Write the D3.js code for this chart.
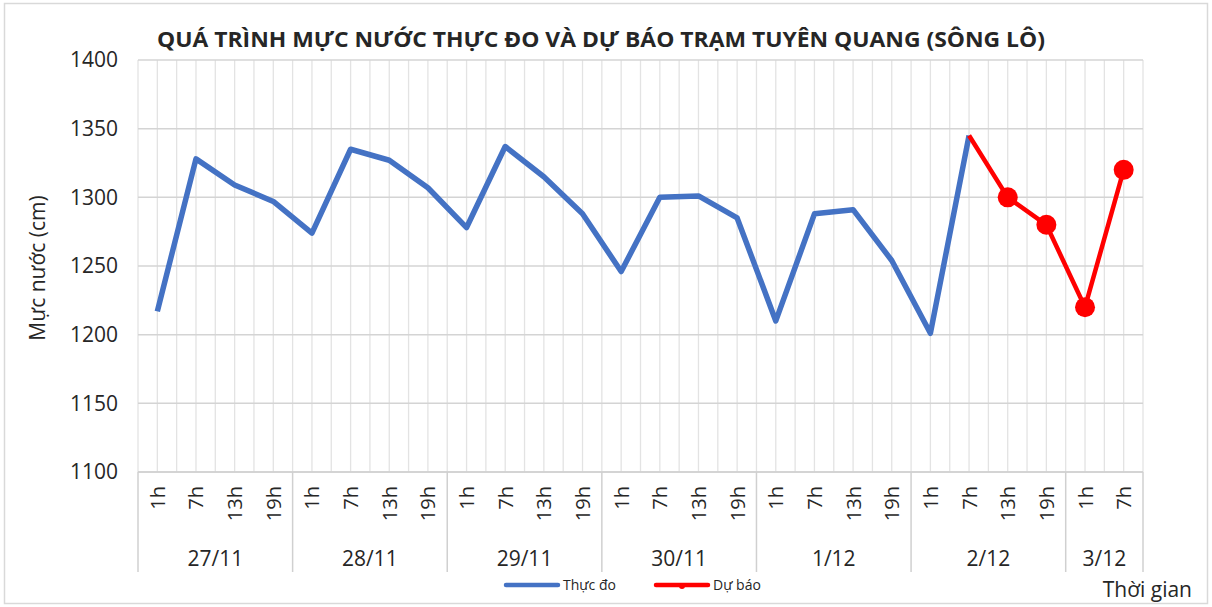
<!DOCTYPE html>
<html>
<head>
<meta charset="utf-8">
<script src="https://cdn.jsdelivr.net/npm/d3@7"></script>
<style>
  body { margin: 0; background: #fff; }
  svg text { font-family: "Open Sans", "Noto Sans", sans-serif; fill: #262626; }
</style>
</head>
<body>
<svg width="1212" height="607"></svg>
<script>
// categories
var hourLabels = ["1h","7h","13h","19h","1h","7h","13h","19h","1h","7h","13h","19h",
  "1h","7h","13h","19h","1h","7h","13h","19h","1h","7h","13h","19h","1h","7h"];
var dayLabels = ["27/11","28/11","29/11","30/11","1/12","2/12","3/12"];
var dayCounts = [4, 4, 4, 4, 4, 4, 2];
var yTicks = [1100, 1150, 1200, 1250, 1300, 1350, 1400];

// series (cm)
var thucDo = [1217, 1328, 1309, 1297, 1274, 1335, 1327, 1307, 1278, 1337, 1315, 1288,
  1246, 1300, 1301, 1285, 1210, 1288, 1291, 1254, 1201, 1345];
var duBao = [null, null, null, null, null, null, null, null, null, null, null, null,
  null, null, null, null, null, null, null, null, null, 1345, 1300, 1280, 1220, 1320];

var svg = d3.select("svg");
var plotL = 138, plotR = 1143, plotT = 60, plotB = 472;

var n = hourLabels.length;
var x = d3.scaleLinear().domain([0, n]).range([plotL, plotR]);
var y = d3.scaleLinear().domain([1100, 1400]).range([plotB, plotT]);
var cx = function (i) { return x(i + 0.5); };

// chart frame
svg.append("rect")
  .attr("x", 4.5).attr("y", 3.5).attr("width", 1203).attr("height", 600)
  .attr("fill", "none").attr("stroke", "#d9d9d9").attr("stroke-width", 1.5);

// vertical gridlines (major + minor)
svg.append("g").selectAll("line")
  .data(d3.range(0, n + 0.5, 0.5))
  .enter().append("line")
  .attr("x1", function (d) { return x(d); }).attr("x2", function (d) { return x(d); })
  .attr("y1", plotT).attr("y2", plotB)
  .attr("stroke", "#e3e3e3").attr("stroke-width", 1.3);

// horizontal gridlines
svg.append("g").selectAll("line")
  .data(yTicks)
  .enter().append("line")
  .attr("x1", plotL).attr("x2", plotR)
  .attr("y1", function (d) { return y(d); }).attr("y2", function (d) { return y(d); })
  .attr("stroke", "#d4d4d4").attr("stroke-width", 1.5);

// y axis
var yAxis = svg.append("g")
  .attr("transform", "translate(" + plotL + ",0)")
  .call(d3.axisLeft(y).tickValues(yTicks).tickFormat(d3.format("d")).tickSize(0).tickPadding(20));
yAxis.select(".domain").remove();
yAxis.selectAll("text")
  .style("font-family", '"Open Sans", sans-serif')
  .attr("font-size", 21).attr("fill", "#404040");

// x axis line
svg.append("line")
  .attr("x1", plotL).attr("x2", plotR).attr("y1", plotB).attr("y2", plotB)
  .attr("stroke", "#d0d0d0").attr("stroke-width", 1.5);

// day separators
var bounds = [0];
dayCounts.forEach(function (c) { bounds.push(bounds[bounds.length - 1] + c); });
svg.append("g").selectAll("line")
  .data(bounds)
  .enter().append("line")
  .attr("x1", function (d) { return x(d); }).attr("x2", function (d) { return x(d); })
  .attr("y1", plotB).attr("y2", 572)
  .attr("stroke", "#d0d0d0").attr("stroke-width", 1.5);

// hour labels (rotated)
svg.append("g").selectAll("text")
  .data(hourLabels)
  .enter().append("text")
  .attr("transform", function (d, i) { return "translate(" + (cx(i) + 7.5) + ",486) rotate(-90)"; })
  .attr("text-anchor", "end")
  .attr("font-size", 20)
  .attr("fill", "#404040")
  .text(function (d) { return d; });

// day labels
svg.append("g").selectAll("text")
  .data(dayLabels)
  .enter().append("text")
  .attr("x", function (d, i) { return x((bounds[i] + bounds[i + 1]) / 2); })
  .attr("y", 566)
  .attr("text-anchor", "middle")
  .attr("font-size", 21)
  .attr("fill", "#404040")
  .text(function (d) { return d; });

// lines
var line = d3.line()
  .defined(function (d) { return d != null; })
  .x(function (d, i) { return cx(i); })
  .y(function (d) { return y(d); });

svg.append("path")
  .datum(thucDo)
  .attr("fill", "none")
  .attr("stroke", "#4472C4")
  .attr("stroke-width", 5.5)
  .attr("stroke-linejoin", "round")
  .attr("d", line);

svg.append("path")
  .datum(duBao)
  .attr("fill", "none")
  .attr("stroke", "#FF0000")
  .attr("stroke-width", 4.5)
  .attr("stroke-linejoin", "round")
  .attr("d", line);

var firstForecast = duBao.findIndex(function (d) { return d != null; });
svg.append("g").selectAll("circle")
  .data(duBao.map(function (d, i) { return { v: d, i: i }; })
    .filter(function (d) { return d.v != null && d.i > firstForecast; }))
  .enter().append("circle")
  .attr("cx", function (d) { return cx(d.i); })
  .attr("cy", function (d) { return y(d.v); })
  .attr("r", 10)
  .attr("fill", "#FF0000");

// title
svg.append("text")
  .attr("x", 157).attr("y", 47)
  .attr("textLength", 888).attr("lengthAdjust", "spacingAndGlyphs")
  .attr("font-size", 21).attr("font-weight", "bold")
  .attr("fill", "#000")
  .text("QUÁ TRÌNH MỰC NƯỚC THỰC ĐO VÀ DỰ BÁO TRẠM TUYÊN QUANG (SÔNG LÔ)");

// y axis title
svg.append("text")
  .attr("transform", "translate(45,268) rotate(-90)")
  .attr("text-anchor", "middle")
  .attr("font-size", 21)
  .attr("fill", "#000")
  .text("Mực nước (cm)");

// x axis title
svg.append("text")
  .attr("x", 1192).attr("y", 597)
  .attr("text-anchor", "end")
  .attr("font-size", 21)
  .attr("fill", "#262626")
  .text("Thời gian");

// legend
var legend = [
  { name: "Thực đo", color: "#4472C4", x: 506, marker: false },
  { name: "Dự báo", color: "#FF0000", x: 656, marker: true }
];
var lg = svg.append("g").selectAll("g").data(legend).enter().append("g")
  .attr("transform", function (d) { return "translate(" + d.x + ",585)"; });
lg.append("line")
  .attr("x1", 0).attr("x2", 52).attr("y1", 0).attr("y2", 0)
  .attr("stroke", function (d) { return d.color; })
  .attr("stroke-width", 4.5).attr("stroke-linecap", "round");
lg.filter(function (d) { return d.marker; }).append("circle")
  .attr("cx", 26).attr("cy", 1).attr("r", 3)
  .attr("fill", function (d) { return d.color; });
lg.append("text")
  .attr("x", 57).attr("y", 5)
  .attr("font-size", 14)
  .attr("fill", "#404040")
  .text(function (d) { return d.name; });
</script>
</body>
</html>
